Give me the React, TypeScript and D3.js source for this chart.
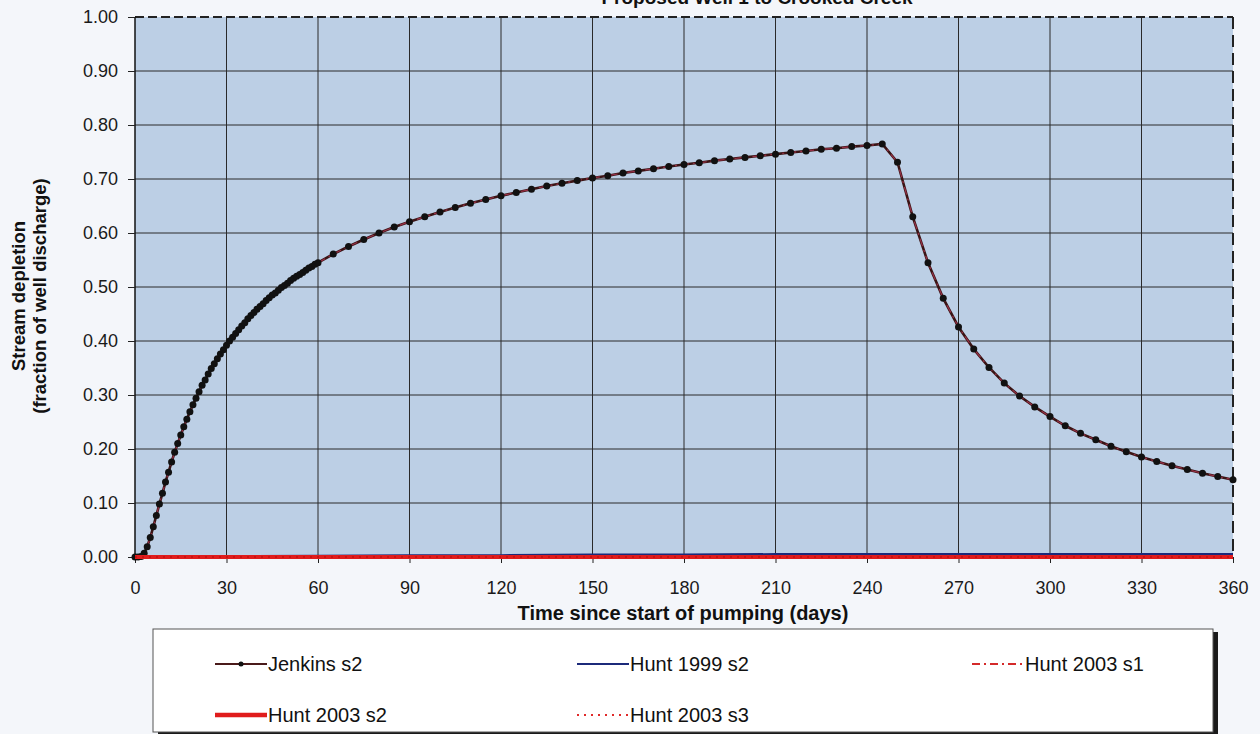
import React, { useEffect, useRef } from 'react';
import * as d3 from 'd3';

const jenkinsDays = [
  0, 1, 2, 3, 4, 5, 6, 7, 8, 9, 10, 11, 12, 13, 14, 15, 16, 17, 18, 19, 20,
  21, 22, 23, 24, 25, 26, 27, 28, 29, 30, 31, 32, 33, 34, 35, 36, 37, 38, 39, 40,
  41, 42, 43, 44, 45, 46, 47, 48, 49, 50, 51, 52, 53, 54, 55, 56, 57, 58, 59, 60,
  65, 70, 75, 80, 85, 90, 95, 100, 105, 110, 115, 120, 125, 130, 135, 140, 145,
  150, 155, 160, 165, 170, 175, 180, 185, 190, 195, 200, 205, 210, 215, 220, 225,
  230, 235, 240, 245, 250, 255, 260, 265, 270, 275, 280, 285, 290, 295, 300, 305,
  310, 315, 320, 325, 330, 335, 340, 345, 350, 355, 360,
];

const jenkinsS2 = [
  0, 0.0, 0.001, 0.007, 0.019, 0.036, 0.056, 0.077, 0.098, 0.118, 0.139,
  0.157, 0.176, 0.194, 0.21, 0.226, 0.241, 0.255, 0.269, 0.282, 0.294,
  0.306, 0.318, 0.328, 0.339, 0.349, 0.358, 0.367, 0.376, 0.384, 0.392,
  0.4, 0.407, 0.414, 0.421, 0.428, 0.434, 0.441, 0.447, 0.453, 0.459,
  0.464, 0.469, 0.475, 0.48, 0.485, 0.489, 0.494, 0.499, 0.503, 0.507,
  0.512, 0.516, 0.52, 0.523, 0.527, 0.531, 0.535, 0.538, 0.542, 0.545,
  0.561, 0.575, 0.588, 0.6, 0.611, 0.621, 0.63, 0.639, 0.647, 0.655, 0.662,
  0.669, 0.675, 0.681, 0.687, 0.692, 0.697, 0.702, 0.706, 0.711, 0.715,
  0.719, 0.723, 0.727, 0.73, 0.734, 0.737, 0.74, 0.743, 0.746, 0.749,
  0.752, 0.755, 0.757, 0.76, 0.762, 0.765,
  0.731, 0.63, 0.545, 0.479, 0.426, 0.385, 0.351, 0.322, 0.298, 0.278,
  0.26, 0.243, 0.229, 0.217, 0.205, 0.195, 0.185, 0.177, 0.169, 0.162,
  0.155, 0.149, 0.143,
];

// Hunt 2003 s1 overlays Jenkins almost exactly
const hunt2003S1 = jenkinsS2;

const hunt1999Days = [0, 30, 60, 90, 120, 150, 180, 210, 245, 270, 300, 330, 360];
const hunt1999S2 = [0, 0.001, 0.002, 0.003, 0.003, 0.004, 0.004, 0.005, 0.005, 0.005, 0.005, 0.005, 0.005];

const hunt2003Days = [0, 360];
const hunt2003S2 = [0, 0];
const hunt2003S3 = [0, 0];

const xTicks = [0, 30, 60, 90, 120, 150, 180, 210, 240, 270, 300, 330, 360];
const yTicks = [0, 0.1, 0.2, 0.3, 0.4, 0.5, 0.6, 0.7, 0.8, 0.9, 1.0];

const legendItems = [
  { name: 'Jenkins s2', color: '#4a1a1a', width: 2, dash: null, marker: true },
  { name: 'Hunt 1999 s2', color: '#1c2a7a', width: 2, dash: null, marker: false },
  { name: 'Hunt 2003 s1', color: '#d42a2a', width: 2, dash: '8,4,2,4', marker: false },
  { name: 'Hunt 2003 s2', color: '#e01c1c', width: 4.5, dash: null, marker: false },
  { name: 'Hunt 2003 s3', color: '#e02a2a', width: 2, dash: '2,5', marker: false },
];

export default function App() {
  const ref = useRef<SVGSVGElement>(null);

  useEffect(() => {
    const svg = d3.select(ref.current);
    svg.selectAll('*').remove();
    const width = 1260;
    const height = 734;
    const font = 'Arial, "Liberation Sans", sans-serif';

    svg.attr('width', width).attr('height', height);
    svg.append('rect').attr('width', width).attr('height', height).attr('fill', '#f4f6fa');

    const x = d3.scaleLinear().domain([0, 360]).range([135, 1233]);
    const y = d3.scaleLinear().domain([0, 1]).range([557, 17]);

    // plot area
    svg.append('rect')
      .attr('x', x(0)).attr('y', y(1))
      .attr('width', x(360) - x(0)).attr('height', y(0) - y(1))
      .attr('fill', '#bccfe5');

    // title (cut off at top in the original)
    svg.append('text')
      .attr('x', 757).attr('y', 4)
      .attr('text-anchor', 'middle')
      .attr('font-family', font).attr('font-weight', 'bold').attr('font-size', 19)
      .attr('fill', '#111')
      .text('Proposed Well 1 to Crooked Creek');

    const grid = svg.append('g').attr('stroke', '#2a2a2a').attr('stroke-width', 1);
    yTicks.slice(1, -1).forEach((t) => {
      grid.append('line').attr('x1', x(0)).attr('x2', x(360)).attr('y1', y(t)).attr('y2', y(t));
    });
    xTicks.slice(1, -1).forEach((t) => {
      grid.append('line').attr('x1', x(t)).attr('x2', x(t)).attr('y1', y(1)).attr('y2', y(0));
    });

    // border: top & right dashed, left solid
    svg.append('line').attr('x1', x(0)).attr('x2', x(360)).attr('y1', y(1)).attr('y2', y(1))
      .attr('stroke', '#222').attr('stroke-width', 2).attr('stroke-dasharray', '9,4');
    svg.append('line').attr('x1', x(360)).attr('x2', x(360)).attr('y1', y(1)).attr('y2', y(0))
      .attr('stroke', '#222').attr('stroke-width', 2).attr('stroke-dasharray', '12,6');
    svg.append('line').attr('x1', x(0)).attr('x2', x(0)).attr('y1', y(1)).attr('y2', y(0))
      .attr('stroke', '#111').attr('stroke-width', 1.5);
    svg.append('line').attr('x1', x(0)).attr('x2', x(360)).attr('y1', y(0)).attr('y2', y(0))
      .attr('stroke', '#111').attr('stroke-width', 1);

    // axes
    const yAxis = svg.append('g')
      .attr('transform', `translate(${x(0)},0)`)
      .call(d3.axisLeft(y).tickValues(yTicks).tickFormat(d3.format('.2f')).tickSize(7).tickPadding(10));
    yAxis.select('.domain').remove();
    yAxis.selectAll('line').attr('stroke', '#222');
    yAxis.selectAll('text').attr('font-family', font).attr('font-size', 18).attr('fill', '#1a1a1a');

    const xAxis = svg.append('g')
      .attr('transform', `translate(0,${y(0)})`)
      .call(d3.axisBottom(x).tickValues(xTicks).tickFormat(d3.format('d')).tickSize(6).tickPadding(18));
    xAxis.select('.domain').remove();
    xAxis.selectAll('line').attr('stroke', '#222');
    xAxis.selectAll('text').attr('font-family', font).attr('font-size', 18).attr('fill', '#1a1a1a');

    svg.append('text')
      .attr('x', 683).attr('y', 620)
      .attr('text-anchor', 'middle')
      .attr('font-family', font).attr('font-weight', 'bold').attr('font-size', 20)
      .attr('fill', '#111')
      .text('Time since start of pumping (days)');

    const yTitle = svg.append('g').attr('transform', 'translate(25,296) rotate(-90)');
    yTitle.append('text').attr('text-anchor', 'middle').attr('y', 0)
      .attr('font-family', font).attr('font-weight', 'bold').attr('font-size', 18.5).attr('fill', '#111')
      .text('Stream depletion');
    yTitle.append('text').attr('text-anchor', 'middle').attr('y', 21)
      .attr('font-family', font).attr('font-weight', 'bold').attr('font-size', 18.5).attr('fill', '#111')
      .text('(fraction of well discharge)');

    const line = d3.line<[number, number]>().x((d) => x(d[0])).y((d) => y(d[1]));
    const zip = (xs: number[], ys: number[]) => xs.map((v, i) => [v, ys[i]] as [number, number]);

    // Jenkins s2
    svg.append('path')
      .attr('d', line(zip(jenkinsDays, jenkinsS2)))
      .attr('fill', 'none').attr('stroke', '#3a1414').attr('stroke-width', 2.6);

    // Hunt 1999 s2
    svg.append('path')
      .attr('d', line(zip(hunt1999Days, hunt1999S2)))
      .attr('fill', 'none').attr('stroke', '#1c2a7a').attr('stroke-width', 2.5);

    // Hunt 2003 s1
    svg.append('path')
      .attr('d', line(zip(jenkinsDays, hunt2003S1)))
      .attr('fill', 'none').attr('stroke', '#d8446a').attr('stroke-opacity', 0.6)
      .attr('stroke-width', 1.2).attr('stroke-dasharray', '8,4,2,4');

    svg.append('g').selectAll('circle')
      .data(zip(jenkinsDays, jenkinsS2))
      .enter()
      .append('circle')
      .attr('cx', (d) => x(d[0])).attr('cy', (d) => y(d[1]))
      .attr('r', 3.5).attr('fill', '#111');

    // Hunt 2003 s2 and s3
    svg.append('path')
      .attr('d', line(zip(hunt2003Days, hunt2003S2)))
      .attr('fill', 'none').attr('stroke', '#e01c1c').attr('stroke-width', 4);
    svg.append('path')
      .attr('d', line(zip(hunt2003Days, hunt2003S3)))
      .attr('fill', 'none').attr('stroke', '#c01010').attr('stroke-width', 1.5).attr('stroke-dasharray', '2,5');

    // legend
    const lg = svg.append('g');
    lg.append('rect').attr('x', 158).attr('y', 632).attr('width', 1060).attr('height', 110)
      .attr('fill', '#1a1a1a');
    lg.append('rect').attr('x', 153).attr('y', 629).attr('width', 1060).attr('height', 103)
      .attr('fill', '#ffffff').attr('stroke', '#555').attr('stroke-width', 1);

    const cols = [215, 577, 972];
    const rows = [664, 715];
    legendItems.forEach((item, i) => {
      const cx = cols[i % 3];
      const cy = rows[Math.floor(i / 3)];
      lg.append('line').attr('x1', cx).attr('x2', cx + 52).attr('y1', cy).attr('y2', cy)
        .attr('stroke', item.color).attr('stroke-width', item.width)
        .attr('stroke-dasharray', item.dash);
      if (item.marker) {
        lg.append('circle').attr('cx', cx + 26).attr('cy', cy).attr('r', 2.5).attr('fill', '#111');
      }
      lg.append('text').attr('x', cx + 53).attr('y', cy + 7)
        .attr('font-family', font).attr('font-size', 20).attr('fill', '#111')
        .text(item.name);
    });
  }, []);

  return <svg ref={ref} style={{ position: 'absolute', left: 0, top: 0 }} />;
}
